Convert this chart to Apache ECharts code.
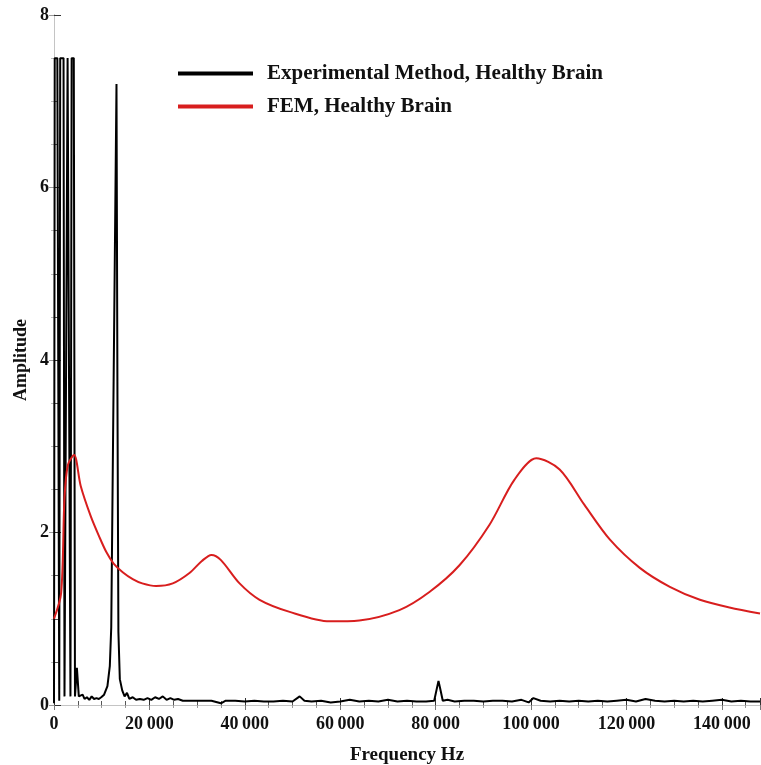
<!DOCTYPE html>
<html>
<head>
<meta charset="utf-8">
<script src="https://cdn.jsdelivr.net/npm/echarts@6/dist/echarts.min.js"></script>
<style>
  html, body { margin: 0; padding: 0; background: #fff; }
  #chart { width: 761px; height: 765px; }
</style>
</head>
<body>
<div id="chart"></div>
<script>
// Series labels
const seriesNames = ['Experimental Method, Healthy Brain', 'FEM, Healthy Brain'];

// Experimental spectrum (Hz, amplitude)
const expFreq = [0, 150, 700, 1100, 1300, 2000, 2200, 2850, 3250, 3450, 3700, 4150, 4400, 4800, 5200,
  5600, 6000, 6400, 6900, 7400, 7900, 8400, 8900, 9400, 9900, 10500, 11200, 11700, 12000, 13100,
  13300, 13500, 13800, 14300, 14800, 15300, 15800, 16500, 17200, 18000, 18800, 19600, 20400, 21200,
  22000, 22800, 23600, 24400, 25200, 26000, 27000, 29000, 31000, 33000, 35000, 36000, 38000, 40000,
  42000, 44000, 46000, 48000, 50000, 51500, 52500, 54000, 56000, 58000, 60000, 62000, 64000, 66000,
  68000, 70000, 72000, 74000, 76000, 78000, 79700, 80600, 81000, 81500, 82500, 84000, 86000, 88000,
  90000, 92000, 94000, 96000, 98000, 99500, 100500, 102000, 104000, 106000, 108000, 110000, 112000,
  114000, 116000, 118000, 120000, 122000, 124000, 126000, 128000, 130000, 132000, 134000, 136000,
  138000, 140000, 142000, 144000, 146000, 148000];
const expAmp = [0.02, 7.5, 7.5, 0.05, 7.5, 7.5, 0.1, 7.5, 7.5, 0.1, 7.5, 7.5, 0.1, 0.43, 0.1,
  0.08, 0.12, 0.07, 0.09, 0.06, 0.1, 0.07, 0.08, 0.07, 0.09, 0.12, 0.22, 0.45, 0.9, 7.2,
  3.6, 0.85, 0.3, 0.17, 0.1, 0.14, 0.07, 0.09, 0.06, 0.07, 0.06, 0.08, 0.06, 0.09,
  0.07, 0.1, 0.06, 0.08, 0.06, 0.07, 0.05, 0.05, 0.05, 0.05, 0.02, 0.05, 0.05, 0.04,
  0.05, 0.04, 0.04, 0.05, 0.04, 0.1, 0.05, 0.04, 0.05, 0.03, 0.04, 0.06, 0.04, 0.05,
  0.04, 0.06, 0.04, 0.05, 0.04, 0.04, 0.05, 0.28, 0.18, 0.05, 0.06, 0.04, 0.05, 0.05,
  0.04, 0.05, 0.05, 0.04, 0.06, 0.03, 0.08, 0.05, 0.04, 0.05, 0.04, 0.05, 0.04,
  0.05, 0.04, 0.05, 0.06, 0.04, 0.07, 0.05, 0.04, 0.05, 0.04, 0.05, 0.04,
  0.05, 0.06, 0.04, 0.05, 0.04, 0.04];

// Finite element response (Hz, amplitude)
const femFreq = [0, 1500, 2200, 2900, 4200, 5600, 7700, 9500, 11000, 12500, 14400, 16500, 18500,
  21400, 24900, 28400, 31000, 33000, 35000, 38900, 43100, 49400, 57800, 64000, 72400, 78700,
  85000, 91300, 96500, 101100, 106000, 111200, 116500, 122800, 129100, 135400, 141600, 148000];
const femAmp = [1.0, 1.3, 2.4, 2.78, 2.9, 2.54, 2.19, 1.95, 1.77, 1.64, 1.54, 1.46, 1.41,
  1.38, 1.41, 1.53, 1.67, 1.74, 1.68, 1.41, 1.22, 1.08, 0.97, 0.98, 1.10, 1.31,
  1.62, 2.09, 2.61, 2.86, 2.73, 2.32, 1.92, 1.59, 1.37, 1.22, 1.13, 1.06];

// Axis setup
const xMin = 0, xMax = 148000, xStep = 20000;
const yMin = 0, yMax = 8, yStep = 2;

const zip = (a, b) => a.map((v, i) => [v, b[i]]);
const groupDigits = v => v === 0 ? '0' : String(v).replace(/\B(?=(\d{3})+(?!\d))/g, '\u2009');

const serif = '"Liberation Serif", "Times New Roman", serif';
const frameDark = '#8a8a8a';
const frameLight = '#c4c4c4';

const chart = echarts.init(document.getElementById('chart'), null, { renderer: 'canvas' });

chart.setOption({
  animation: false,
  backgroundColor: '#ffffff',
  grid: { left: 54, right: 1, top: 15, bottom: 60, containLabel: false, outerBoundsMode: 'none' },
  legend: {
    orient: 'vertical',
    left: 178,
    top: 63,
    padding: 0,
    itemWidth: 75,
    itemHeight: 4,
    itemGap: 12,
    icon: 'rect',
    textStyle: { fontFamily: serif, fontWeight: 'bold', fontSize: 21, color: '#111', padding: [0, 0, 0, 9] },
    data: seriesNames
  },
  xAxis: [{
    type: 'value', min: xMin, max: xMax, interval: xStep,
    name: 'Frequency Hz', nameLocation: 'middle', nameGap: 41, nameMoveOverlap: false,
    nameTextStyle: { fontFamily: serif, fontWeight: 'bold', fontSize: 19, color: '#111' },
    axisLine: { show: true, lineStyle: { color: frameDark, width: 1 } },
    axisTick: { show: true, inside: true, length: 7, lineStyle: { color: '#333' } },
    minorTick: { show: true, splitNumber: 4, length: 4, lineStyle: { color: '#555' } },
    axisLabel: { margin: 10, fontFamily: serif, fontWeight: 'bold', fontSize: 18, color: '#111', formatter: groupDigits },
    splitLine: { show: false }
  }, {
    type: 'value', position: 'top', min: xMin, max: xMax, interval: xStep,
    axisLine: { show: true, lineStyle: { color: frameLight, width: 1 } },
    axisTick: { show: true, inside: true, length: 5, lineStyle: { color: '#777' } },
    minorTick: { show: true, splitNumber: 4, length: 3, lineStyle: { color: '#999' } },
    axisLabel: { show: false },
    splitLine: { show: false }
  }],
  yAxis: [{
    type: 'value', min: yMin, max: yMax, interval: yStep,
    name: 'Amplitude', nameLocation: 'middle', nameGap: 24, nameRotate: 90, nameMoveOverlap: false,
    nameTextStyle: { fontFamily: serif, fontWeight: 'bold', fontSize: 18, color: '#111' },
    axisLine: { show: true, lineStyle: { color: frameDark, width: 1 } },
    axisTick: { show: true, inside: true, length: 7, lineStyle: { color: '#333' } },
    minorTick: { show: true, splitNumber: 4, length: 4, lineStyle: { color: '#555' } },
    axisLabel: { margin: 5, fontFamily: serif, fontWeight: 'bold', fontSize: 18, color: '#111' },
    splitLine: { show: false }
  }, {
    type: 'value', position: 'right', min: yMin, max: yMax, interval: yStep,
    axisLine: { show: true, lineStyle: { color: frameLight, width: 1 } },
    axisTick: { show: true, inside: true, length: 5, lineStyle: { color: '#999' } },
    minorTick: { show: true, splitNumber: 4, length: 3, lineStyle: { color: '#bbb' } },
    axisLabel: { show: false },
    splitLine: { show: false }
  }],
  series: [{
    name: seriesNames[0],
    type: 'line',
    data: zip(expFreq, expAmp),
    showSymbol: false,
    color: '#000000',
    lineStyle: { color: '#000000', width: 2 },
    clip: true
  }, {
    name: seriesNames[1],
    type: 'line',
    data: zip(femFreq, femAmp),
    smooth: 0.3,
    showSymbol: false,
    color: '#d81e1e',
    lineStyle: { color: '#d81e1e', width: 2 },
    clip: true
  }]
});
</script>
</body>
</html>
